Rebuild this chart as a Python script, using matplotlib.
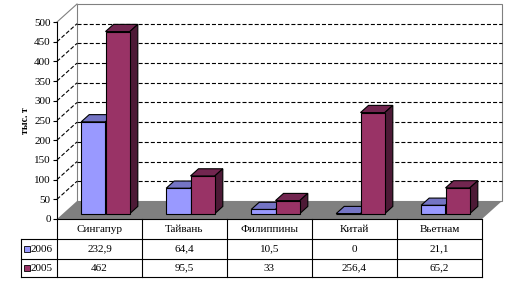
import matplotlib
matplotlib.use('Agg')
import matplotlib.pyplot as plt
from matplotlib.patches import Polygon, Rectangle

categories = ['Сингапур', 'Тайвань', 'Филиппины', 'Китай', 'Вьетнам']
series_names = ['2006', '2005']
values_2006 = [232.9, 64.4, 10.5, 0, 21.1]
values_2005 = [462, 95.5, 33, 256.4, 65.2]
labels_2006 = ['232,9', '64,4', '10,5', '0', '21,1']
labels_2005 = ['462', '95,5', '33', '256,4', '65,2']
yticks = list(range(0, 501, 50))
ylabel = 'тыс. т'

plt.rcParams['lines.scale_dashes'] = False
FONT = 'Liberation Serif'
FS = 8

front_cols = ['#9999FF', '#993366']
top_cols = ['#7474C4', '#722650']
side_cols = ['#4C4C80', '#4D1A36']

W, H = 522, 295
fig = plt.figure(figsize=(W / 100, H / 100), dpi=100)
fig.patch.set_facecolor('white')

x0p, x1p = 57, 482
y0p, y1p = 219, 22
ax = fig.add_axes([x0p / W, 1 - y0p / H, (x1p - x0p) / W, (y0p - y1p) / H])
ncat = len(categories)
ax.set_xlim(0, ncat)
ax.set_ylim(0, 500)
ax.patch.set_alpha(0)
ppx = (x1p - x0p) / ncat
ppy = (y0p - y1p) / 500
DX = 20 / ppx
DY = 18 / ppy

gray = '#808080'
# walls
ax.add_patch(Polygon([(0, 0), (DX, DY), (DX, 500 + DY), (0, 500)], closed=True,
                     facecolor='white', edgecolor='none', clip_on=False, zorder=0))
ax.add_patch(Polygon([(DX, DY), (ncat + DX, DY), (ncat + DX, 500 + DY), (DX, 500 + DY)],
                     closed=True, facecolor='white', edgecolor=gray, lw=0.8,
                     clip_on=False, zorder=0))
ax.plot([0, DX], [500, 500 + DY], color=gray, lw=0.8, clip_on=False, zorder=1)
for v in yticks[1:-1]:
    ax.plot([DX, ncat + DX], [v + DY, v + DY], color='black', lw=0.8,
            dashes=(2.9, 1.5), clip_on=False, zorder=1)
    ax.plot([0, DX], [v, v + DY], color='black', lw=0.8,
            dashes=(2.9, 1.5), clip_on=False, zorder=1)
# floor
ax.add_patch(Polygon([(0, 0), (ncat, 0), (ncat + DX, DY), (DX, DY)], closed=True,
                     facecolor=gray, edgecolor='none', clip_on=False, zorder=2))

bw = 0.286
d0, d1 = 0.3, 0.7
z = 3
for i in range(ncat):
    for s, vals in enumerate([values_2006, values_2005]):
        v = vals[i]
        L = i + 0.5 - bw + s * bw
        ax.bar(L + d0 * DX, v, width=bw, bottom=d0 * DY, align='edge',
               color=front_cols[s], edgecolor='black', lw=0.8, zorder=z, clip_on=False)
        top = [(L + d0 * DX, v + d0 * DY), (L + bw + d0 * DX, v + d0 * DY),
               (L + bw + d1 * DX, v + d1 * DY), (L + d1 * DX, v + d1 * DY)]
        side = [(L + bw + d0 * DX, d0 * DY), (L + bw + d1 * DX, d1 * DY),
                (L + bw + d1 * DX, v + d1 * DY), (L + bw + d0 * DX, v + d0 * DY)]
        ax.add_patch(Polygon(top, closed=True, facecolor=top_cols[s], edgecolor='black',
                             lw=0.8, zorder=z - 0.5, clip_on=False))
        ax.add_patch(Polygon(side, closed=True, facecolor=side_cols[s], edgecolor='black',
                             lw=0.8, zorder=z - 0.5, clip_on=False))
        z += 1

for sp in ['top', 'right']:
    ax.spines[sp].set_visible(False)
ax.spines['left'].set_linewidth(0.8)
ax.spines['bottom'].set_linewidth(0.8)
ax.spines['left'].set_zorder(50)
ax.spines['bottom'].set_zorder(50)
ax.set_xticks([])
ax.set_yticks(yticks)
ax.set_yticklabels([str(t) for t in yticks], fontfamily=FONT, fontsize=FS)
ax.tick_params(axis='y', length=3, width=0.8, pad=1.5, direction='out')

fig.text(25 / W, 1 - 121 / H, ylabel, rotation=90, ha='center', va='center',
         fontfamily=FONT, fontsize=7, fontweight='bold')

# data table in pixel coordinates
tb = fig.add_axes([0, 0, 1, 1])
tb.set_xlim(0, W)
tb.set_ylim(H, 0)
tb.axis('off')
tb.patch.set_alpha(0)
col_edges = [x0p + k * ppx for k in range(ncat + 1)]
rows = [219, 239, 258.5, 277]
xl = 21
for y in rows[1:]:
    tb.plot([xl, col_edges[-1]], [y, y], color='black', lw=0.8)
for x in col_edges:
    tb.plot([x, x], [rows[0], rows[-1]], color='black', lw=0.8)
tb.plot([xl, xl], [rows[1], rows[-1]], color='black', lw=0.8)
for i, c in enumerate(categories):
    cx = (col_edges[i] + col_edges[i + 1]) / 2
    tb.text(cx, (rows[0] + rows[1]) / 2 + 0.5, c, ha='center', va='center',
            fontfamily=FONT, fontsize=FS)
    tb.text(cx, (rows[1] + rows[2]) / 2 + 0.5, labels_2006[i], ha='center', va='center',
            fontfamily=FONT, fontsize=FS)
    tb.text(cx, (rows[2] + rows[3]) / 2 + 0.5, labels_2005[i], ha='center', va='center',
            fontfamily=FONT, fontsize=FS)
for s, name in enumerate(series_names):
    yc = (rows[1 + s] + rows[2 + s]) / 2
    tb.add_patch(Rectangle((24, yc - 3), 6, 6, facecolor=front_cols[s],
                           edgecolor='black', lw=0.6))
    tb.text(31, yc + 0.5, name, ha='left', va='center', fontfamily=FONT, fontsize=FS)

fig.savefig('out.png', dpi=100)
